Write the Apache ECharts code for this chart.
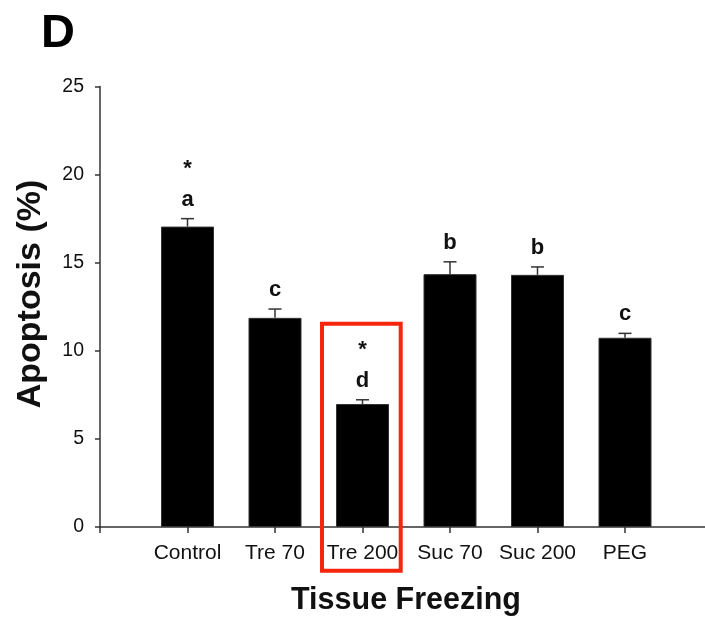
<!DOCTYPE html>
<html>
<head>
<meta charset="utf-8">
<script src="https://cdn.jsdelivr.net/npm/echarts@6/dist/echarts.min.js"></script>
<style>
  html, body { margin: 0; padding: 0; background: #fff; }
  #main { width: 705px; height: 618px; }
</style>
</head>
<body>
<div id="main"></div>
<script>
var categories = ['Control', 'Tre 70', 'Tre 200', 'Suc 70', 'Suc 200', 'PEG'];
var apoptosis = [17.05, 11.87, 6.98, 14.35, 14.31, 10.74];
var sem = [0.45, 0.5, 0.24, 0.7, 0.45, 0.25];
var letters = ['a', 'c', 'd', 'b', 'b', 'c'];
var stars = ['*', '', '*', '', '', ''];
var yTicks = [0, 5, 10, 15, 20, 25];

var font = 'Liberation Sans, Arial, sans-serif';
var chart = echarts.init(document.getElementById('main'));

// bars sit at x = 1..6 on a value axis so the axis can start left of the first bar
var barData = apoptosis.map(function (v, i) { return [i + 1, v]; });
var errData = apoptosis.map(function (v, i) { return [i + 1, v, sem[i]]; });

option = {
    animation: false,
    title: {
        text: 'D',
        left: 36,
        top: 6,
        textStyle: { fontFamily: font, fontSize: 47, fontWeight: 'bold', color: '#000' }
    },
    grid: {
        left: 100,
        right: 0,
        top: 86.5,
        bottom: 91
    },
    xAxis: {
        type: 'value',
        min: 0,
        max: 605 / 87.5,
        interval: 1,
        splitLine: { show: false },
        axisLine: { lineStyle: { color: '#333', width: 1.5 } },
        axisTick: { length: 6, lineStyle: { color: '#333', width: 1.5 } },
        axisLabel: {
            margin: 16,
            fontFamily: font,
            fontSize: 21,
            color: '#111',
            showMaxLabel: false,
            formatter: function (v) { return categories[v - 1] || ''; }
        }
    },
    yAxis: {
        type: 'value',
        min: yTicks[0],
        max: yTicks[yTicks.length - 1],
        interval: 5,
        splitLine: { show: false },
        axisLine: { show: true, lineStyle: { color: '#333', width: 1.5 } },
        axisTick: { show: true, length: 5, lineStyle: { color: '#333', width: 1.5 } },
        axisLabel: {
            margin: 16,
            fontFamily: font,
            fontSize: 19.5,
            color: '#111'
        }
    },
    graphic: [
        {
            type: 'text',
            x: 31,
            y: 294,
            rotation: Math.PI / 2,
            style: {
                text: 'Apoptosis (%)',
                fontFamily: font,
                fontSize: 34,
                fontWeight: 'bold',
                fill: '#111',
                align: 'center',
                verticalAlign: 'middle'
            }
        },
        {
            type: 'text',
            x: 406,
            y: 601,
            style: {
                text: 'Tissue Freezing',
                fontFamily: font,
                fontSize: 30.5,
                fontWeight: 'bold',
                fill: '#111',
                align: 'center',
                verticalAlign: 'middle'
            }
        },
        {
            type: 'rect',
            shape: { x: 322, y: 323.7, width: 78.7, height: 247 },
            style: { fill: 'none', stroke: '#f5260c', lineWidth: 4 },
            z: 10
        }
    ],
    series: [
        {
            type: 'bar',
            data: barData,
            barWidth: 53,
            itemStyle: { color: '#000', borderColor: '#333', borderWidth: 1 }
        },
        {
            type: 'custom',
            data: errData,
            z: 5,
            renderItem: function (params, api) {
                var x = api.value(0);
                var top = api.coord([x, api.value(1) + api.value(2)]);
                var base = api.coord([x, api.value(1)]);
                var i = params.dataIndex;
                var children = [
                    { type: 'line', shape: { x1: top[0], y1: base[1], x2: top[0], y2: top[1] },
                      style: { stroke: '#333', lineWidth: 1.5 } },
                    { type: 'line', shape: { x1: top[0] - 6.5, y1: top[1], x2: top[0] + 6.5, y2: top[1] },
                      style: { stroke: '#333', lineWidth: 1.5 } },
                    { type: 'text', x: top[0], y: top[1] - 19,
                      style: { text: letters[i], fontFamily: font, fontSize: 22, fontWeight: 'bold',
                               fill: '#111', align: 'center', verticalAlign: 'middle' } }
                ];
                if (stars[i]) {
                    children.push({ type: 'text', x: top[0], y: top[1] - 50,
                        style: { text: stars[i], fontFamily: font, fontSize: 22, fontWeight: 'bold',
                                 fill: '#111', align: 'center', verticalAlign: 'middle' } });
                }
                return { type: 'group', children: children };
            }
        }
    ]
};
chart.setOption(option);
</script>
</body>
</html>
